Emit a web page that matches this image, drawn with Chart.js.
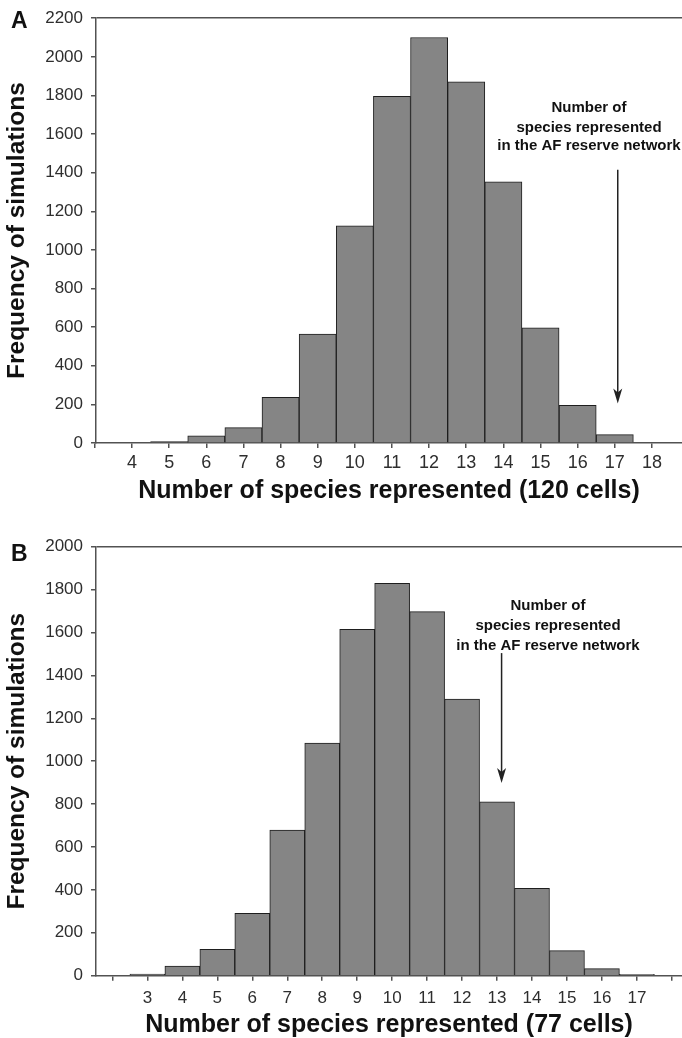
<!DOCTYPE html>
<html><head><meta charset="utf-8">
<script src="https://cdn.jsdelivr.net/npm/chart.js@4.4.1/dist/chart.umd.min.js"></script>
<style>
html,body{margin:0;padding:0;background:#fff;width:682px;height:1038px;overflow:hidden;}
.wrap{position:absolute;left:0;width:682px;height:520px;}
canvas{display:block;}
</style></head><body>
<div class="wrap" style="top:0"><canvas id="cA" width="682" height="520"></canvas></div>
<div class="wrap" style="top:520px"><canvas id="cB" width="682" height="520"></canvas></div>
<script>
// ---- Panel A data (120 cells) ----
const speciesA = [4,5,6,7,8,9,10,11,12,13,14,15,16,17,18];
const freqA    = [0,7,37,80,236,564,1125,1795,2100,1870,1352,596,195,43,0];
const xTicksA  = [3,4,5,6,7,8,9,10,11,12,13,14,15,16,17,18];
const xTickLabelsA = ['','4','5','6','7','8','9','10','11','12','13','14','15','16','17','18'];
const yMaxA = 2200;

// ---- Panel B data (77 cells) ----
const speciesB = [2,3,4,5,6,7,8,9,10,11,12,13,14,15,16,17];
const freqB    = [0,7,45,123,291,679,1085,1615,1829,1697,1290,811,407,117,33,6];
const xTicksB  = [2,3,4,5,6,7,8,9,10,11,12,13,14,15,16,17,18];
const xTickLabelsB = ['','3','4','5','6','7','8','9','10','11','12','13','14','15','16','17',''];
const yMaxB = 2000;

const yStep = 200;
const yTitle = 'Frequency of simulations';
const annotationLines = ['Number of','species represented','in the AF reserve network'];

const FONT = "'Liberation Sans', Arial, Helvetica, sans-serif";
const AXIS = '#525252';
const BAR_FILL = '#858585';
const BAR_EDGE = '#1e1e1e';
const TICK_TXT = '#2e2e2e';

const panelPlugin = {
  id: 'panel',
  afterDraw(chart, args, o) {
    const ctx = chart.ctx, xs = chart.scales.x, ys = chart.scales.y;
    ctx.save();
    ctx.fillStyle = '#111';
    ctx.textBaseline = 'alphabetic';
    ctx.textAlign = 'left';
    ctx.font = `bold 23px ${FONT}`;
    ctx.fillText(o.letter, o.letterX, o.letterY);
    ctx.font = `bold 15px ${FONT}`;
    ctx.textAlign = 'center';
    o.lines.forEach((t, i) => ctx.fillText(t, o.textX, o.textY[i]));
    const ax = xs.getPixelForValue(o.arrowX);
    const y0 = ys.getPixelForValue(o.arrowFrom);
    const y1 = ys.getPixelForValue(o.arrowTo);
    ctx.strokeStyle = '#222';
    ctx.fillStyle = '#222';
    ctx.lineWidth = 1.5;
    ctx.beginPath(); ctx.moveTo(ax, y0); ctx.lineTo(ax, y1 - 10); ctx.stroke();
    ctx.beginPath();
    ctx.moveTo(ax - 4.5, y1 - 15); ctx.lineTo(ax, y1 - 11); ctx.lineTo(ax + 4.5, y1 - 15);
    ctx.lineTo(ax, y1); ctx.closePath(); ctx.fill();
    ctx.restore();
  }
};

function makeChart(id, o) {
  return new Chart(document.getElementById(id), {
    type: 'bar',
    data: {
      datasets: [{
        data: o.categories.map((c, i) => ({ x: c, y: o.values[i] })),
        backgroundColor: BAR_FILL,
        borderColor: BAR_EDGE,
        borderWidth: 1,
        barPercentage: 1,
        categoryPercentage: 1,
        grouped: false
      }]
    },
    options: {
      responsive: false,
      animation: false,
      devicePixelRatio: 1,
      layout: { padding: { top: o.padTop, left: 0, right: 0, bottom: 0 } },
      plugins: { legend: { display: false }, tooltip: { enabled: false }, panel: o.panel },
      scales: {
        x: {
          type: 'linear', min: o.xMin, max: o.xMax, offset: false,
          afterBuildTicks: s => { s.ticks = o.xTicks.map(v => ({ value: v })); },
          afterFit: s => { s.height = o.xAxisHeight; },
          grid: { display: true, drawOnChartArea: false, drawTicks: true, tickLength: 5, tickColor: AXIS, lineWidth: 1.5, offset: false },
          border: { display: true, color: AXIS, width: 1.5 },
          ticks: {
            autoSkip: false, maxRotation: 0, padding: o.xTickPad, color: TICK_TXT,
            font: { family: FONT, size: o.xTickSize },
            callback: v => { const k = o.xTicks.indexOf(v); return k >= 0 ? o.xTickLabels[k] : ''; }
          },
          title: { display: true, text: o.xTitle, color: '#111',
                   font: { family: FONT, size: 25, weight: 'bold' }, padding: { top: 0, bottom: o.xTitlePadB } }
        },
        y: {
          min: 0, max: o.yMax,
          afterFit: s => { s.width = 96; },
          grid: { display: true, drawOnChartArea: true, drawTicks: true, tickLength: 5,
                  color: c => (c.tick && c.tick.value === o.yMax) ? AXIS : 'rgba(0,0,0,0)',
                  tickColor: AXIS, lineWidth: 1.5 },
          border: { display: true, color: AXIS, width: 1.5 },
          ticks: { stepSize: yStep, padding: 8, color: TICK_TXT, font: { family: FONT, size: 17 },
                   callback: v => String(v) },
          title: { display: true, text: yTitle, color: '#111',
                   font: { family: FONT, size: 24.5, weight: 'bold' }, padding: { top: 3, bottom: 0 } }
        }
      }
    },
    plugins: [panelPlugin]
  });
}

makeChart('cA', {
  categories: speciesA, values: freqA, xTicks: xTicksA, xTickLabels: xTickLabelsA,
  xMin: 3.03, xMax: 18.81, yMax: yMaxA, padTop: 14, xAxisHeight: 77, xTickPad: 4.5, xTickSize: 18,
  xTitle: 'Number of species represented (120 cells)', xTitlePadB: 14,
  panel: { letter: 'A', letterX: 11, letterY: 28, lines: annotationLines, textX: 589, textY: [112, 131.5, 150],
           arrowX: 17.08, arrowFrom: 1415, arrowTo: 205 }
});

makeChart('cB', {
  categories: speciesB, values: freqB, xTicks: xTicksB, xTickLabels: xTickLabelsB,
  xMin: 1.53, xMax: 18.29, yMax: yMaxB, padTop: 26.7, xAxisHeight: 64.3, xTickPad: 7, xTickSize: 17,
  xTitle: 'Number of species represented (77 cells)', xTitlePadB: 0,
  panel: { letter: 'B', letterX: 11, letterY: 41, lines: annotationLines, textX: 548, textY: [90, 110, 130],
           arrowX: 13.13, arrowFrom: 1504, arrowTo: 898 }
});
</script></body></html>
